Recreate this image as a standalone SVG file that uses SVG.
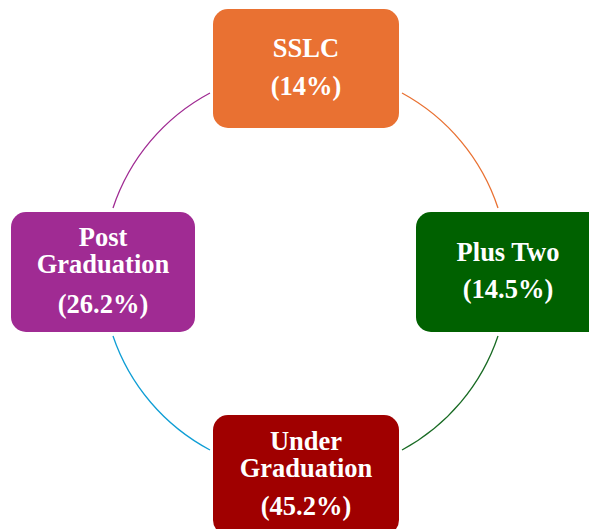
<svg xmlns="http://www.w3.org/2000/svg" width="589" height="529" viewBox="0 0 589 529">
<style>
.lbl{font-family:"Liberation Serif","Times New Roman",serif;font-weight:bold;font-size:26.5px;fill:#ffffff;text-anchor:middle}
.arc{fill:none;stroke-width:1.3}
</style>
<rect width="589" height="529" fill="#ffffff"/>
<g id="connectors">
<path class="arc" stroke="#A02B93" d="M210,93 A203,203 0 0 0 113,208"/>
<path class="arc" stroke="#E97132" d="M402,93 A203,203 0 0 1 498,208"/>
<path class="arc" stroke="#196B24" d="M498,336 A203,203 0 0 1 402,450"/>
<path class="arc" stroke="#0F9ED5" d="M210,450 A203,203 0 0 1 113,336"/>
</g>
<g id="sslc">
<rect x="213" y="9" width="186" height="119" rx="15" fill="#E97132"/>
<text class="lbl" x="306" y="57">SSLC</text>
<text class="lbl" x="306" y="95">(14%)</text>
</g>
<g id="plustwo">
<rect x="416" y="212" width="186" height="120" rx="15" fill="#006100"/>
<text class="lbl" x="508" y="261">Plus Two</text>
<text class="lbl" x="508" y="298">(14.5%)</text>
</g>
<g id="undergraduation">
<rect x="213" y="415" width="186" height="120" rx="15" fill="#A00000"/>
<text class="lbl" x="306" y="450">Under</text>
<text class="lbl" x="306" y="477">Graduation</text>
<text class="lbl" x="306" y="515">(45.2%)</text>
</g>
<g id="postgraduation">
<rect x="11" y="212" width="184" height="120" rx="15" fill="#A02B93"/>
<text class="lbl" x="103" y="246">Post</text>
<text class="lbl" x="103" y="273">Graduation</text>
<text class="lbl" x="103" y="313">(26.2%)</text>
</g>
</svg>
